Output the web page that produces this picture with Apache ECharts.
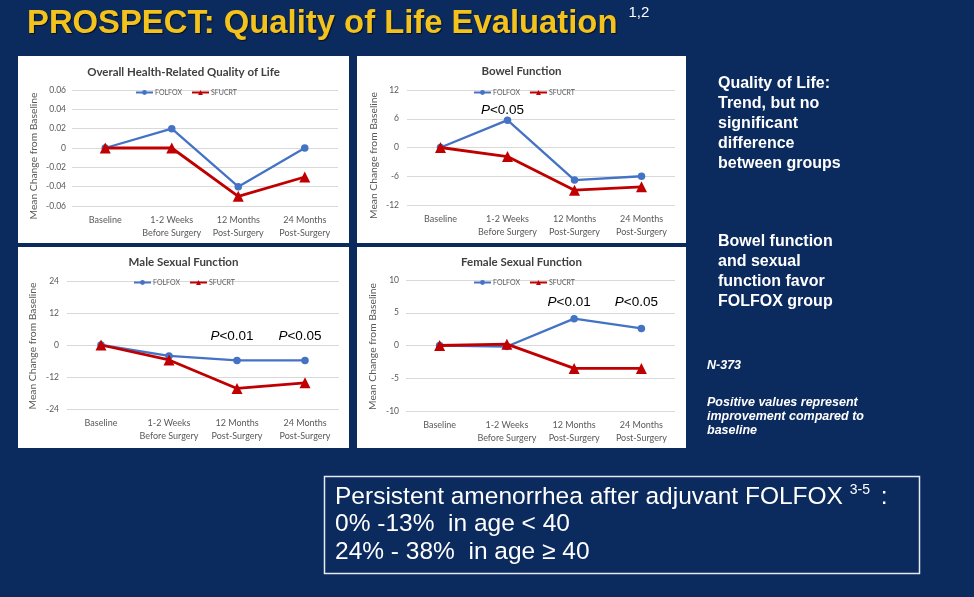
<!DOCTYPE html>
<html>
<head>
<meta charset="utf-8">
<script src="https://cdn.jsdelivr.net/npm/echarts@6/dist/echarts.min.js"></script>
<style>
html,body{margin:0;padding:0;background:#0b2a5e;}
#c{width:974px;height:597px;}
</style>
</head>
<body>
<div id="c"></div>
<script>
// ---------- data ----------
const categories = ['Baseline', '1-2 Weeks\nBefore Surgery', '12 Months\nPost-Surgery', '24 Months\nPost-Surgery'];
const seriesNames = ['FOLFOX', 'SFUCRT'];
const panelTitles = ['Overall Health-Related Quality of Life', 'Bowel Function', 'Male Sexual Function', 'Female Sexual Function'];
const qolFolfox = [0, 0.02, -0.04, 0];
const qolSfucrt = [0, 0, -0.05, -0.03];
const bowelFolfox = [0, 5.7, -6.8, -6.0];
const bowelSfucrt = [0, -1.9, -8.9, -8.2];
const maleFolfox = [0, -4.1, -5.8, -5.8];
const maleSfucrt = [0, -5.6, -16.3, -14.2];
const femaleFolfox = [0, -0.15, 4.1, 2.6];
const femaleSfucrt = [0, 0.2, -3.5, -3.5];
const yTicks = [
  [-0.06, -0.04, -0.02, 0, 0.02, 0.04, 0.06],
  [-12, -6, 0, 6, 12],
  [-24, -12, 0, 12, 24],
  [-10, -5, 0, 5, 10]
];
// significance notes: [panel, category index, anchor value, text]
const pNotes = [
  [1, 1, 7.7, '0.05'],
  [2, 2, 3.4, '0.01'],
  [2, 3, 3.4, '0.05'],
  [3, 2, 6.6, '0.01'],
  [3, 3, 6.6, '0.05']
];
const panelData = [
  [qolFolfox, qolSfucrt],
  [bowelFolfox, bowelSfucrt],
  [maleFolfox, maleSfucrt],
  [femaleFolfox, femaleSfucrt]
];

// ---------- layout ----------
const panels = [
  {box:[18,56,331,187],  grid:{left:72, top:90, width:266, height:116}, cx:183.5, titleTop:66, legendLeft:135, legendTop:89, nameGap:33, ylm:6, nameShift:16},
  {box:[357,56,329,187], grid:{left:407, top:90, width:268, height:115}, cx:521.5, titleTop:65, legendLeft:473, legendTop:89, nameGap:28, ylm:8, nameShift:16},
  {box:[18,247,331,201], grid:{left:67, top:281, width:272, height:128}, cx:183.5, titleTop:256, legendLeft:133, legendTop:279, nameGap:29, ylm:8, nameShift:2},
  {box:[357,247,329,201],grid:{left:406, top:280, width:269, height:131}, cx:521.5, titleTop:256, legendLeft:473, legendTop:279, nameGap:28, ylm:7, nameShift:2}
];
const FONT = 'Lato, "Open Sans", sans-serif';
const GRAY = '#595959';
const BLUE = '#4472C4';
const RED = '#C00000';

const fmt = v => String(parseFloat(v.toFixed(2)));

const option = {
  backgroundColor: '#0b2a5e',
  animation: false,
  title: panels.map((p, i) => ({
    text: panelTitles[i], left: p.cx, top: p.titleTop, textAlign: 'center', padding: 0,
    textStyle: {fontFamily: FONT, fontSize: 11.5, fontWeight: 'bold', color: '#404040'}
  })),
  legend: panels.map(p => ({
    data: seriesNames, left: p.legendLeft, top: p.legendTop, orient: 'horizontal',
    itemWidth: 17, itemHeight: 6, itemGap: 9, padding: 0,
    textStyle: {fontFamily: FONT, fontSize: 7, color: GRAY, padding: [0, 0, 0, -3]}
  })),
  grid: panels.map(p => Object.assign({containLabel: false}, p.grid)),
  xAxis: panels.map((p, i) => ({
    type: 'category', gridIndex: i, data: categories,
    axisLine: {show: false}, axisTick: {show: false},
    axisLabel: {interval: 0, fontFamily: FONT, fontSize: 9, color: GRAY, lineHeight: 13, margin: 8}
  })),
  yAxis: panels.map((p, i) => {
    const t = yTicks[i];
    return {
      type: 'value', gridIndex: i, min: t[0], max: t[t.length - 1], interval: t[1] - t[0],
      name: 'Mean Change from Baseline', nameLocation: 'middle', nameGap: p.nameGap,
      nameTextStyle: {fontFamily: FONT, fontSize: 10.3, color: GRAY, padding: [0, p.nameShift, 0, 0]},
      axisLine: {show: false}, axisTick: {show: false},
      axisLabel: {fontFamily: FONT, fontSize: 8.5, color: GRAY, margin: p.ylm, formatter: fmt},
      splitLine: {lineStyle: {color: '#d9d9d9', width: 1}}
    };
  }),
  series: [],
  graphic: []
};

panels.forEach((p, i) => {
  const notes = pNotes.filter(n => n[0] === i);
  option.series.push({
    name: seriesNames[0], type: 'line', xAxisIndex: i, yAxisIndex: i,
    data: panelData[i][0], symbol: 'circle', symbolSize: 7.5,
    lineStyle: {color: BLUE, width: 2.3}, itemStyle: {color: BLUE},
    z: 3,
    markPoint: notes.length ? {
      symbol: 'rect', symbolSize: [1, 1], itemStyle: {color: 'rgba(0,0,0,0)'},
      label: {
        show: true, position: 'inside', offset: [-5, 0],
        formatter: d => '{i|P}{n|<' + d.name + '}',
        rich: {
          i: {fontFamily: '"Liberation Sans", Arial', fontSize: 13.5, fontStyle: 'italic', color: '#000'},
          n: {fontFamily: '"Liberation Sans", Arial', fontSize: 13.5, color: '#000'}
        }
      },
      data: notes.map(n => ({name: n[3], coord: [n[1], n[2]]}))
    } : undefined
  });
  option.series.push({
    name: seriesNames[1], type: 'line', xAxisIndex: i, yAxisIndex: i,
    data: panelData[i][1], symbol: 'triangle', symbolSize: 11,
    lineStyle: {color: RED, width: 2.8}, itemStyle: {color: RED},
    z: 4
  });
  option.graphic.push({
    type: 'rect', z: -10, silent: true,
    shape: {x: p.box[0], y: p.box[1], width: p.box[2], height: p.box[3]},
    style: {fill: '#ffffff'}
  });
});

const WF = '"Liberation Sans", Arial, sans-serif';
option.graphic.push(
  {
    type: 'text', x: 27, y: 5, silent: true,
    style: {
      text: '{t|PROSPECT: Quality of Life Evaluation}{s|1,2}',
      rich: {
        t: {fontFamily: WF, fontSize: 32.8, fontWeight: 'bold', fill: '#f3c21c', lineHeight: 37,
            textShadowColor: 'rgba(0,0,0,0.6)', textShadowOffsetX: 1, textShadowOffsetY: 1, textShadowBlur: 1},
        s: {fontFamily: WF, fontSize: 15, fill: '#ffffff', verticalAlign: 'top', lineHeight: 24, padding: [0, 0, 0, 11]}
      }
    }
  },
  {
    type: 'text', x: 718, y: 74, silent: true,
    style: {text: 'Quality of Life:\nTrend, but no\nsignificant\ndifference\nbetween groups',
      fontFamily: WF, fontSize: 16, fontWeight: 'bold', fill: '#ffffff', lineHeight: 19.8}
  },
  {
    type: 'text', x: 718, y: 232, silent: true,
    style: {text: 'Bowel function\nand sexual\nfunction favor\nFOLFOX group',
      fontFamily: WF, fontSize: 16, fontWeight: 'bold', fill: '#ffffff', lineHeight: 19.8}
  },
  {
    type: 'text', x: 707, y: 359, silent: true,
    style: {text: 'N-373', fontFamily: WF, fontSize: 12.5, fontWeight: 'bold', fontStyle: 'italic', fill: '#ffffff'}
  },
  {
    type: 'text', x: 707, y: 396, silent: true,
    style: {text: 'Positive values represent\nimprovement compared to\nbaseline',
      fontFamily: WF, fontSize: 12.5, fontWeight: 'bold', fontStyle: 'italic', fill: '#ffffff', lineHeight: 14}
  },
  {
    type: 'rect', silent: true,
    shape: {x: 324.5, y: 476.5, width: 595, height: 97},
    style: {fill: 'none', stroke: '#e6ebf2', lineWidth: 1.5}
  },
  {
    type: 'text', x: 335, y: 483, silent: true,
    style: {
      text: '{a|Persistent amenorrhea after adjuvant FOLFOX }{s|3-5}{a| :}\n{a|0% -13%  in age < 40}\n{a|24% - 38%  in age \u2265 40}',
      rich: {
        a: {fontFamily: WF, fontSize: 24.5, fill: '#ffffff', lineHeight: 27.5},
        s: {fontFamily: WF, fontSize: 14, fill: '#ffffff', verticalAlign: 'top', lineHeight: 18, padding: [0, 4, 0, 0]}
      }
    }
  }
);

const chart = echarts.init(document.getElementById('c'), null, {renderer: 'canvas'});
chart.setOption(option);
</script>
</body>
</html>
